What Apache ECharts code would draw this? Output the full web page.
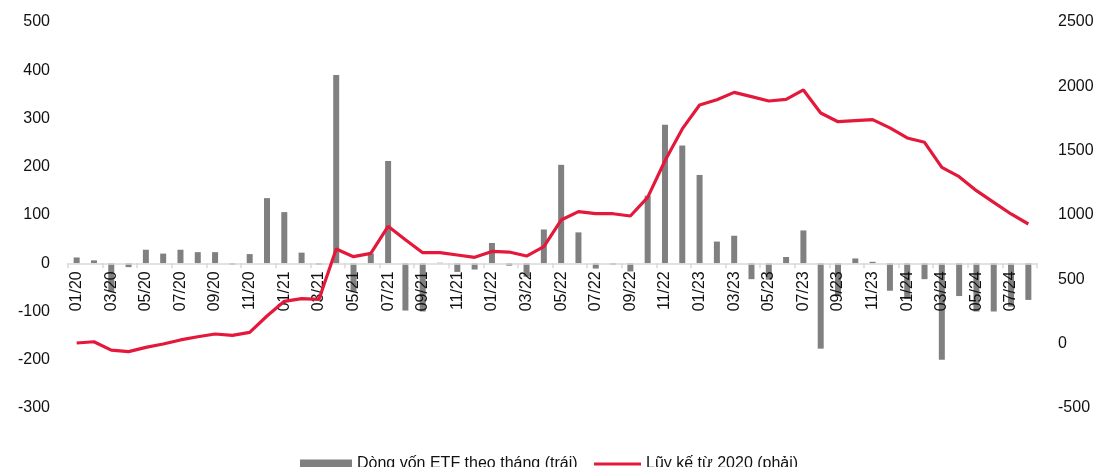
<!DOCTYPE html>
<html>
<head>
<meta charset="utf-8">
<script src="https://cdn.jsdelivr.net/npm/echarts@6/dist/echarts.min.js"></script>
<style>
  html, body { margin: 0; padding: 0; background: #fff; }
  #chart { width: 1097px; height: 467px; }
</style>
</head>
<body>
<div id="chart"></div>
<script>
// Months from 01/20 to 08/24
const months = [
  '01/20','02/20','03/20','04/20','05/20','06/20','07/20','08/20','09/20','10/20','11/20','12/20',
  '01/21','02/21','03/21','04/21','05/21','06/21','07/21','08/21','09/21','10/21','11/21','12/21',
  '01/22','02/22','03/22','04/22','05/22','06/22','07/22','08/22','09/22','10/22','11/22','12/22',
  '01/23','02/23','03/23','04/23','05/23','06/23','07/23','08/23','09/23','10/23','11/23','12/23',
  '01/24','02/24','03/24','04/24','05/24','06/24','07/24','08/24'
];

// Monthly ETF flows (left axis)
const monthlyFlow = [
  12, 6, -60, -8, 28, 20, 28, 23, 23, -3, 19, 135,
  106, 22, -3, 390, -60, 20, 212, -98, -100, 1, -18, -13,
  42, -5, -28, 70, 204, 64, -11, -3, -17, 140, 287, 244,
  183, 45, 57, -33, -34, 13, 68, -177, -68, 10, 3, -57,
  -74, -33, -200, -68, -100, -100, -90, -76
];

// Cumulative since 2020 (right axis)
const cumulative = [
  5, 15, -50, -62, -29, -3, 29, 54, 75, 65, 88, 215,
  329, 350, 344, 736, 676, 702, 912, 808, 707, 707, 689, 671,
  717, 712, 681, 754, 961, 1026, 1010, 1010, 992, 1137, 1422, 1669,
  1855, 1896, 1953, 1920, 1886, 1899, 1972, 1793, 1725, 1733, 1741, 1677,
  1599, 1565, 1370, 1298, 1189, 1098, 1008, 930
];

const leftTicks = { min: -300, max: 500, interval: 100 };
const rightTicks = { min: -500, max: 2500, interval: 500 };

const barName = 'Dòng vốn ETF theo tháng (trái)';
const lineName = 'Lũy kế từ 2020 (phải)';

const font = 'Liberation Sans, Arial, sans-serif';
const gridTop = 22, gridBottom = 59, chartHeight = 467;

// Category axis sits on the left axis' zero line
const plotHeight = chartHeight - gridTop - gridBottom;
const zeroOffset = -plotHeight * (0 - leftTicks.min) / (leftTicks.max - leftTicks.min);

const chart = echarts.init(document.getElementById('chart'));

chart.setOption({
  animation: false,
  textStyle: { fontFamily: font },
  grid: { left: 68, right: 60, top: gridTop, bottom: gridBottom },
  legend: [
    {
      data: [barName],
      left: 295, top: 451,
      icon: 'rect', itemWidth: 52, itemHeight: 9,
      textStyle: { fontSize: 16, color: '#111', fontFamily: font }
    },
    {
      data: [lineName],
      left: 589, top: 451,
      icon: 'rect', itemWidth: 47, itemHeight: 3,
      textStyle: { fontSize: 16, color: '#111', fontFamily: font }
    }
  ],
  xAxis: {
    type: 'category',
    data: months,
    boundaryGap: true,
    position: 'bottom',
    offset: zeroOffset,
    z: 2,
    axisLine: { onZero: false, lineStyle: { color: '#d9d9d9', width: 1.5 } },
    axisTick: { show: true, interval: 1, length: 5, lineStyle: { color: '#d9d9d9', width: 1.5 } },
    axisLabel: {
      interval: 1, rotate: 90, margin: 8,
      fontSize: 16, color: '#111', fontFamily: font
    },
    splitLine: { show: false }
  },
  yAxis: [
    {
      type: 'value',
      min: leftTicks.min, max: leftTicks.max, interval: leftTicks.interval,
      axisLine: { show: false }, axisTick: { show: false },
      splitLine: { show: false },
      axisLabel: { fontSize: 16, color: '#111', margin: 18, fontFamily: font }
    },
    {
      type: 'value',
      min: rightTicks.min, max: rightTicks.max, interval: rightTicks.interval,
      axisLine: { show: false }, axisTick: { show: false },
      splitLine: { show: false },
      axisLabel: {
        fontSize: 16, color: '#111', margin: 21, fontFamily: font,
        formatter: v => String(v)
      }
    }
  ],
  series: [
    {
      name: barName,
      type: 'bar',
      yAxisIndex: 0,
      data: monthlyFlow,
      barWidth: 6,
      z: 1,
      itemStyle: { color: '#808080' }
    },
    {
      name: lineName,
      type: 'line',
      yAxisIndex: 1,
      data: cumulative,
      z: 3,
      symbol: 'none',
      lineStyle: { color: '#e3183b', width: 3.2 },
      itemStyle: { color: '#e3183b' }
    }
  ]
});
</script>
</body>
</html>
